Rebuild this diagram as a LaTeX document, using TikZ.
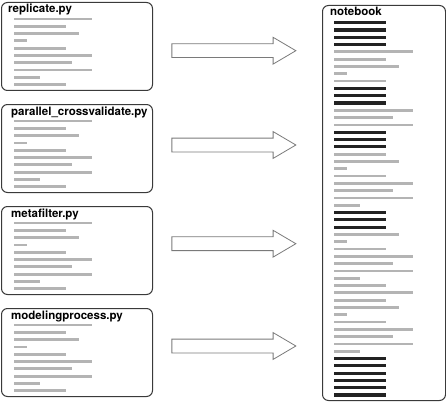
\documentclass[tikz,border=0pt]{standalone}
\usepackage{fontspec}
\setsansfont{TeX Gyre Heros}
\usetikzlibrary{positioning, shapes.arrows}

\definecolor{boxline}{HTML}{3A3A3A}
\definecolor{codegray}{HTML}{B4B4B4}
\definecolor{mdblack}{HTML}{222222}
\definecolor{arrowline}{HTML}{7A7A7A}

\begin{document}
\begin{tikzpicture}[
  x=1pt, y=-1pt,
  node distance=13pt,
  file/.style={draw=boxline, line width=1pt, rounded corners=6pt, inner sep=0pt,
    minimum width=151pt, minimum height=88pt},
  title/.style={font=\sffamily\bfseries\fontsize{11.5}{13}\selectfont, inner sep=0pt, anchor=base west},
  codeline/.style={draw=codegray, line width=2.8pt},
  mdline/.style={draw=mdblack, line width=3.2pt},
  blockarr/.style={single arrow, draw=arrowline, line width=0.8pt, fill=white,
    minimum height=124pt, inner xsep=0pt, inner ysep=6.5pt,
    single arrow head extend=6.5pt, single arrow tip angle=61}
]
  \useasboundingbox (0,0) rectangle (446,401);

  % script files
  \node[file, anchor=north west] (s1) at (1,2) {};
  \node[file, below=of s1] (s2) {};
  \node[file, below=of s2] (s3) {};
  \node[file, below=of s3] (s4) {};

  \node[title] at ([xshift=7pt, yshift=-11pt]s1.north west) {replicate.py};
  \node[title] at ([xshift=10pt, yshift=-11pt]s2.north west) {parallel\_crossvalidate.py};
  \node[title] at ([xshift=10pt, yshift=-11pt]s3.north west) {metafilter.py};
  \node[title] at ([xshift=10pt, yshift=-11pt]s4.north west) {modelingprocess.py};

  \foreach \s in {s1,s2,s3,s4}
    \foreach \len [count=\i] in {78,52,65,13,52,78,58,78,26,52}
      \draw[codeline] ([xshift=13pt, yshift={-9.7pt-7.3pt*\i}]\s.north west) -- ++(\len,0);

  % notebook
  \node[file, anchor=north west, minimum width=123pt, minimum height=395pt] (nb) at (322,5) {};
  \node[title] at ([xshift=8pt, yshift=-11pt]nb.north west) {notebook};

  \foreach \sty/\len [count=\i from 0] in {
      mdline/52, mdline/52, mdline/52, mdline/52,
      codeline/79, codeline/52, codeline/65, codeline/13, codeline/52,
      mdline/52, mdline/52, mdline/52,
      codeline/79, codeline/59, codeline/79,
      mdline/52, mdline/52, mdline/52,
      codeline/52, codeline/65, codeline/13, codeline/52, codeline/79, codeline/59, codeline/79, codeline/26,
      mdline/52, mdline/52, mdline/52,
      codeline/65, codeline/13, codeline/52, codeline/79, codeline/59, codeline/79, codeline/26,
      codeline/52, codeline/79, codeline/52, codeline/65, codeline/13, codeline/52, codeline/79,
      codeline/59, codeline/79, codeline/26,
      mdline/52, mdline/52, mdline/52, mdline/52, mdline/52, mdline/52}
    \draw[\sty] ([xshift=12pt, yshift={-17.7pt-7.3pt*\i}]nb.north west) -- ++(\len,0);

  % arrows into the notebook
  \node[blockarr] (a1) at (228,50.7) {};
  \node[blockarr] (a2) at (228,145) {};
  \node[blockarr] (a3) at (228,243.7) {};
  \node[blockarr] (a4) at (228,346) {};
\end{tikzpicture}
\end{document}
